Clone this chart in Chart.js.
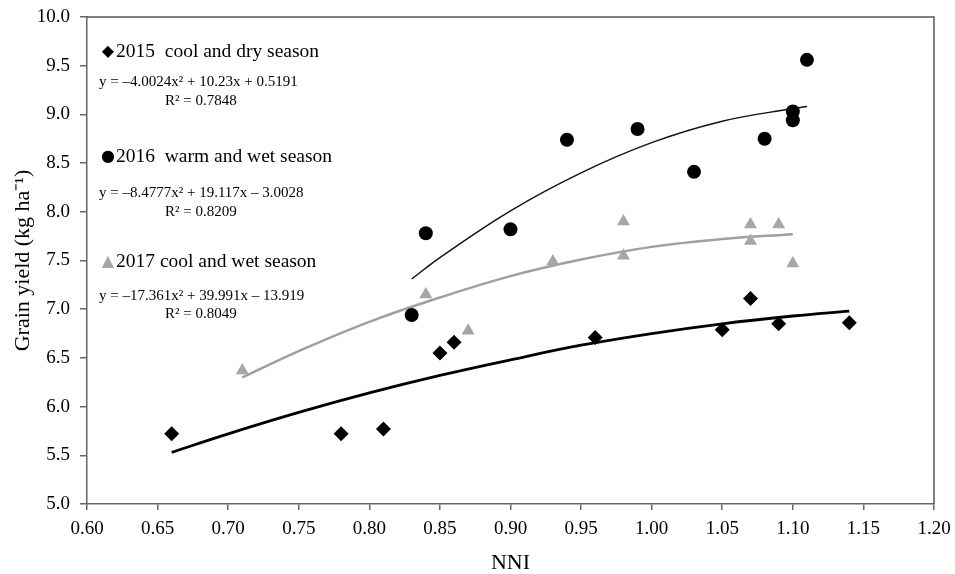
<!DOCTYPE html>
<html>
<head>
<meta charset="utf-8">
<script src="https://cdn.jsdelivr.net/npm/chart.js@4"></script>
<style>
  html, body { margin: 0; padding: 0; background: #fff; }
  #wrap { width: 955px; height: 574px; }
</style>
</head>
<body>
<div id="wrap"><canvas id="yieldChart" width="955" height="574"></canvas></div>
<script>
// measured points (NNI, grain yield)
const nni2015 = [0.66, 0.78, 0.81, 0.85, 0.86, 0.96, 1.05, 1.07, 1.09, 1.14];
const yield2015 = [5.72, 5.72, 5.77, 6.55, 6.66, 6.71, 6.79, 7.11, 6.85, 6.86];

const nni2016 = [0.83, 0.84, 0.90, 0.94, 0.99, 1.03, 1.08, 1.10, 1.10, 1.11];
const yield2016 = [6.94, 7.78, 7.82, 8.74, 8.85, 8.41, 8.75, 9.03, 8.94, 9.56];

const nni2017 = [0.71, 0.84, 0.87, 0.93, 0.98, 0.98, 1.07, 1.07, 1.09, 1.10];
const yield2017 = [6.37, 7.15, 6.78, 7.49, 7.55, 7.90, 7.87, 7.70, 7.87, 7.47];

// trend curves
const fitX2015 = [0.66, 0.70, 0.75, 0.80, 0.85, 0.90, 0.95, 1.00, 1.05, 1.10, 1.14];
const fitY2015 = [5.53, 5.72, 5.94, 6.14, 6.32, 6.48, 6.63, 6.75, 6.85, 6.93, 6.98];

const fitX2016 = [0.83, 0.85, 0.90, 0.95, 1.00, 1.05, 1.10, 1.11];
const fitY2016 = [7.31, 7.53, 8.01, 8.40, 8.71, 8.93, 9.06, 9.08];

const fitX2017 = [0.71, 0.75, 0.80, 0.85, 0.90, 0.95, 1.00, 1.05, 1.10];
const fitY2017 = [6.30, 6.57, 6.87, 7.12, 7.34, 7.51, 7.64, 7.72, 7.77];

const seasonLabels = ['2015  cool and dry season', '2016  warm and wet season', '2017 cool and wet season'];
const equations = ['y = \u20134.0024x\u00b2 + 10.23x + 0.5191', 'y = \u20138.4777x\u00b2 + 19.117x \u2013 3.0028', 'y = \u201317.361x\u00b2 + 39.991x \u2013 13.919'];
const rSquared = ['R\u00b2 = 0.7848', 'R\u00b2 = 0.8209', 'R\u00b2 = 0.8049'];

const grey = '#a6a6a6';
const serif = "'Liberation Serif', 'Times New Roman', serif";

function pairs(xs, ys) {
    return xs.map((x, i) => ({ x: x, y: ys[i] }));
}

// text block inside the plot + box on top/right
const notesPlugin = {
    id: 'notes',
    afterDraw(chart) {
        const ctx = chart.ctx;
        const a = chart.chartArea;
        ctx.save();
        ctx.strokeStyle = '#555';
        ctx.lineWidth = 1.5;
        ctx.beginPath();
        ctx.moveTo(a.left, a.top);
        ctx.lineTo(a.right, a.top);
        ctx.lineTo(a.right, a.bottom);
        ctx.stroke();

        const rows = [
            { mark: '\u25c6', color: '#000', head: 52, eq: 82, r: 101 },
            { mark: '\u25cf', color: '#000', head: 157, eq: 193, r: 212 },
            { mark: '\u25b2', color: grey, head: 262, eq: 296, r: 314 }
        ];
        ctx.textBaseline = 'middle';
        rows.forEach((row, i) => {
            ctx.fillStyle = row.color;
            ctx.font = "16px 'DejaVu Sans', sans-serif";
            ctx.textAlign = 'center';
            ctx.fillText(row.mark, 108, row.head);
            ctx.fillStyle = '#000';
            ctx.textAlign = 'left';
            ctx.font = '19.5px ' + serif;
            ctx.fillText(seasonLabels[i], 116, row.head);
            ctx.font = '15px ' + serif;
            ctx.fillText(equations[i], 99, row.eq);
            ctx.fillText(rSquared[i], 165, row.r);
        });
        ctx.restore();
    }
};

const ctx = document.getElementById('yieldChart').getContext('2d');
const yieldChart = new Chart(ctx, {
    type: 'scatter',
    data: {
        datasets: [
            {
                label: '2015',
                data: pairs(nni2015, yield2015),
                pointStyle: 'rectRot',
                pointRadius: 7.5,
                backgroundColor: '#000',
                borderColor: '#000',
                borderWidth: 0
            },
            {
                label: '2016',
                data: pairs(nni2016, yield2016),
                pointStyle: 'circle',
                pointRadius: 7,
                backgroundColor: '#000',
                borderColor: '#000',
                borderWidth: 0
            },
            {
                label: '2017',
                data: pairs(nni2017, yield2017),
                pointStyle: 'triangle',
                pointRadius: 7.5,
                backgroundColor: grey,
                borderColor: grey,
                borderWidth: 0
            },
            {
                label: 'fit 2015',
                data: pairs(fitX2015, fitY2015),
                showLine: true,
                pointRadius: 0,
                borderColor: '#000',
                borderWidth: 2.8,
                tension: 0.4
            },
            {
                label: 'fit 2016',
                data: pairs(fitX2016, fitY2016),
                showLine: true,
                pointRadius: 0,
                borderColor: '#111',
                borderWidth: 1.5,
                tension: 0.4
            },
            {
                label: 'fit 2017',
                data: pairs(fitX2017, fitY2017),
                showLine: true,
                pointRadius: 0,
                borderColor: '#a0a0a0',
                borderWidth: 2.5,
                tension: 0.4
            }
        ]
    },
    options: {
        responsive: false,
        animation: false,
        layout: { padding: { top: 17, right: 21, left: 0, bottom: 0 } },
        plugins: {
            legend: { display: false },
            tooltip: { enabled: false }
        },
        scales: {
            x: {
                type: 'linear',
                min: 0.60,
                max: 1.20,
                afterFit: function(scale) {
                    scale.height = 70;
                    scale.paddingLeft = 0;
                    scale.paddingRight = 0;
                },
                border: { color: '#666', width: 1.5 },
                grid: { drawOnChartArea: false, tickLength: 6, color: '#666', lineWidth: 1.5 },
                ticks: {
                    stepSize: 0.05,
                    padding: 8,
                    color: '#000',
                    font: { family: serif, size: 19 },
                    callback: v => v.toFixed(2)
                },
                title: {
                    display: true,
                    text: 'NNI',
                    color: '#000',
                    font: { family: serif, size: 22, lineHeight: 1 },
                    padding: { top: 0, bottom: 0 }
                }
            },
            y: {
                min: 5.0,
                max: 10.0,
                afterFit: function(scale) {
                    scale.width = 87;
                    scale.paddingTop = 0;
                    scale.paddingBottom = 0;
                },
                border: { color: '#666', width: 1.5 },
                grid: { drawOnChartArea: false, tickLength: 7, color: '#666', lineWidth: 1.5 },
                ticks: {
                    stepSize: 0.5,
                    padding: 10,
                    color: '#000',
                    font: { family: serif, size: 19 },
                    callback: v => v.toFixed(1)
                },
                title: {
                    display: true,
                    text: 'Grain yield (kg ha\u207b\u00b9)',
                    color: '#000',
                    font: { family: serif, size: 22, lineHeight: 1 },
                    padding: { top: 12, bottom: 0 }
                }
            }
        }
    },
    plugins: [notesPlugin]
});
</script>
</body>
</html>
